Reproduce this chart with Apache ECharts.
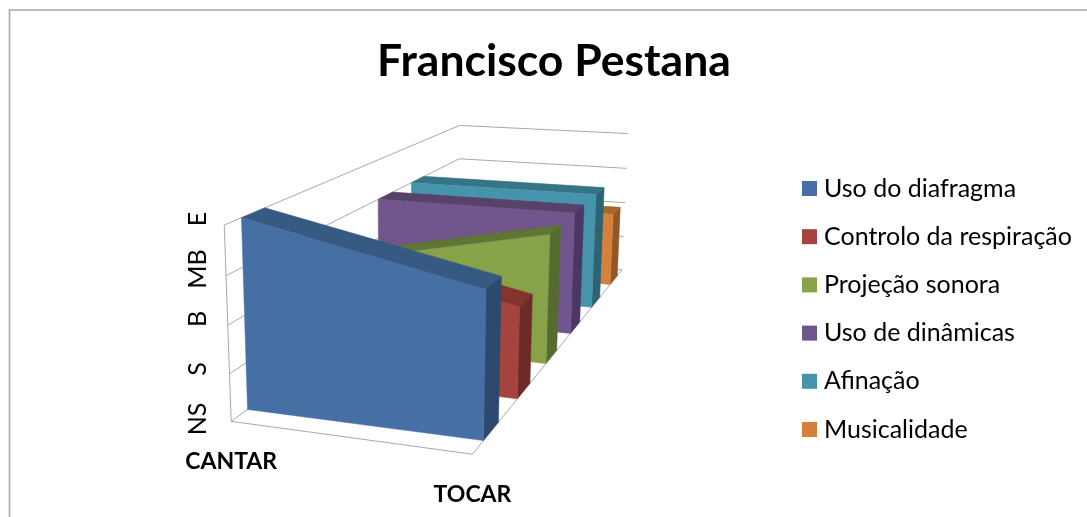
<!DOCTYPE html>
<html><head><meta charset="utf-8">
<style>html,body{margin:0;padding:0;background:#fff}#c{width:1087px;height:517px}</style>
<script src="https://cdn.jsdelivr.net/npm/echarts@6/dist/echarts.min.js"></script>
</head><body><div id="c"></div>
<script>
const categories = ['CANTAR', 'TOCAR'];
const levels = ['NS', 'S', 'B', 'MB', 'E'];
const seriesNames = ['Uso do diafragma', 'Controlo da respiração', 'Projeção sonora', 'Uso de dinâmicas', 'Afinação', 'Musicalidade'];
const usoDiafragma = [4, 3];
const controloRespiracao = [3, 2];
const projecaoSonora = [2, 3];
const usoDinamicas = [3, 3];
const afinacao = [3, 3];
const musicalidade = [2, 2];
const seriesValues = [usoDiafragma, controloRespiracao, projecaoSonora, usoDinamicas, afinacao, musicalidade];

const palette = [
  {front:'#466fa3', top:'#375a82', side:'#2d4a6e'},
  {front:'#a5433f', top:'#84332f', side:'#6d2a28'},
  {front:'#88a24a', top:'#5f7534', side:'#566b2e'},
  {front:'#70568c', top:'#594269', side:'#4b3762'},
  {front:'#4594ab', top:'#367487', side:'#2c6474'},
  {front:'#d5813b', top:'#a8662d', side:'#8f5826'}
];

// Camera calibration: unit box (x, height, depth) -> page, least squares.
const calib = [
  [0,0,0,230.7,421.7],[1,0,0,472.3,454.3],[1,0,1,622.3,269.3],
  [0,1,0,223.3,225],[0,.75,0,227.3,275],[0,.5,0,228.3,326],[0,.25,0,229.3,373],
  [0,1,1,459.3,125],[0,.75,1,459.3,159.3],
  [1,1,1,628,133],[1,.75,1,626.7,169.3],[1,.5,1,625,202.7],[1,.25,1,623,236.7]
];
function solveCamera(pts){
  const rows=[],rhs=[];
  pts.forEach(([X,Y,Z,u,v])=>{
    rows.push([X,Y,Z,1,0,0,0,0,-u*X,-u*Y,-u*Z]);rhs.push(u);
    rows.push([0,0,0,0,X,Y,Z,1,-v*X,-v*Y,-v*Z]);rhs.push(v);
  });
  const n=11,A=[];
  for(let i=0;i<n;i++){A.push(new Array(n+1).fill(0));
    for(let j=0;j<n;j++)for(let r=0;r<rows.length;r++)A[i][j]+=rows[r][i]*rows[r][j];
    for(let r=0;r<rows.length;r++)A[i][n]+=rows[r][i]*rhs[r];}
  for(let i=0;i<n;i++){let m=i;for(let k=i+1;k<n;k++)if(Math.abs(A[k][i])>Math.abs(A[m][i]))m=k;
    [A[i],A[m]]=[A[m],A[i]];
    for(let k=0;k<n;k++){if(k===i)continue;const f=A[k][i]/A[i][i];for(let j=i;j<=n;j++)A[k][j]-=f*A[i][j];}}
  return A.map((r,i)=>r[n]/r[i]);
}
const cam=solveCamera(calib);
function project(x,y,z){
  const w=cam[8]*x+cam[9]*y+cam[10]*z+1;
  return [(cam[0]*x+cam[1]*y+cam[2]*z+cam[3])/w,(cam[4]*x+cam[5]*y+cam[6]*z+cam[7])/w];
}
const SLAB=0.035;
function unit(params,api,cat,val){
  const p=api.coord([cat,val]),r=params.coordSys;
  return [(p[0]-r.x)/r.width,(r.y+r.height-p[1])/r.height];
}
function poly(pts,fill){
  return {type:'polygon',shape:{points:pts.map(a=>project(a[0],a[1],a[2]))},style:{fill:fill,stroke:fill,lineWidth:0.5}};
}
function renderSlab(i){
  return function(params,api){
    if(params.dataIndex===0) return null;
    const a=unit(params,api,api.value(0,params.dataIndex-1),api.value(1,params.dataIndex-1));
    const b=unit(params,api,api.value(0),api.value(1));
    const c=(i+.5)/seriesNames.length,zf=c-SLAB,zb=c+SLAB,col=palette[i];
    return {type:'group',children:[
      poly([[b[0],0,zf],[b[0],b[1],zf],[b[0],b[1],zb],[b[0],0,zb]],col.side),
      poly([[a[0],a[1],zf],[b[0],b[1],zf],[b[0],b[1],zb],[a[0],a[1],zb]],col.top),
      poly([[a[0],0,zf],[b[0],0,zf],[b[0],b[1],zf],[a[0],a[1],zf]],col.front)
    ]};
  };
}
function line(a,b){
  const p=project(a[0],a[1],a[2]),q=project(b[0],b[1],b[2]);
  return {type:'line',shape:{x1:p[0],y1:p[1],x2:q[0],y2:q[1]},style:{stroke:'#a9a9a9',lineWidth:1}};
}
function renderWalls(params,api){
  const y=unit(params,api,0,api.value(1))[1];
  const ch=[line([0,y,0],[0,y,1]),line([0,y,1],[1,y,1])];
  if(params.dataIndex===0){
    ch.push(line([0,0,0],[1,0,0]),line([1,0,0],[1,0,1]),line([0,0,0],[0,1,0]));
  }
  return {type:'group',children:ch};
}
function renderCats(params,api){
  const x=unit(params,api,api.value(0),0)[0];
  const p=project(x,0,0);
  return {type:'text',style:{text:categories[params.dataIndex],x:p[0],y:p[1]+40,align:'center',verticalAlign:'middle',
    font:'bold 23px Lato',fill:'#000'}};
}
const series=[{type:'custom',name:'_walls',silent:true,z:1,renderItem:renderWalls,encode:{x:0,y:1},
  data:levels.map((l,i)=>[0,i])},
 {type:'custom',name:'_cats',silent:true,z:1,renderItem:renderCats,encode:{x:0,y:1},
  data:categories.map((c,i)=>[i,0])}];
seriesNames.forEach((n,i)=>{
  series.push({type:'custom',name:n,z:20-i,silent:true,renderItem:renderSlab(i),encode:{x:0,y:1},
    itemStyle:{color:palette[i].front},data:seriesValues[i].map((v,k)=>[k,v])});
});
const chart=echarts.init(document.getElementById('c'),null,{renderer:'canvas'});
chart.setOption({
  animation:false,
  backgroundColor:'#fff',
  title:{text:'Francisco Pestana',left:549,top:34,textAlign:'center',textStyle:{fontFamily:'Lato',fontWeight:'bold',fontSize:44.5,color:'#000'}},
  legend:{data:seriesNames,orient:'vertical',left:802,top:176,padding:0,icon:'rect',itemWidth:15,itemHeight:15,itemGap:23.2,
    textStyle:{fontFamily:'Lato',fontSize:25,lineHeight:24,color:'#000',padding:[0,0,0,2]}},
  grid:{left:212,top:219,width:240,height:200},
  xAxis:{type:'category',data:categories,boundaryGap:false,show:false},
  yAxis:{type:'value',min:0,max:4,interval:1,axisLine:{show:false},axisTick:{show:false},splitLine:{show:false},
    axisLabel:{rotate:90,margin:2,fontFamily:'Lato',fontSize:25,color:'#000',formatter:v=>levels[v]}},
  graphic:[{type:'rect',shape:{x:9.5,y:10,width:1200,height:700},style:{fill:'none',stroke:'#a6a6a6',lineWidth:1.5},silent:true}],
  series:series
});
</script></body></html>
